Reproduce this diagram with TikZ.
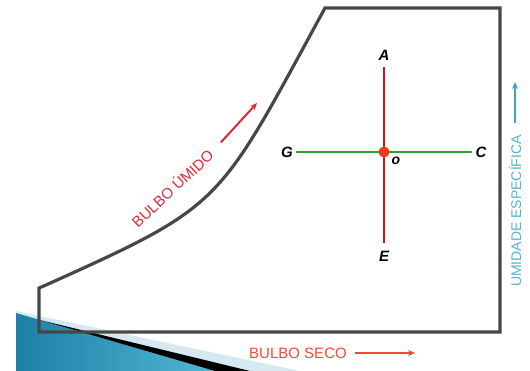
\documentclass[tikz,border=0pt]{standalone}
\usepackage{fontspec}
\setmainfont{Liberation Sans}
\usetikzlibrary{arrows.meta,calc,positioning}
\definecolor{FrameInk}{HTML}{474747}
\definecolor{AxisRed}{HTML}{C8161E}
\definecolor{AxisGreen}{HTML}{2E9E2E}
\definecolor{DotRed}{HTML}{F23C16}
\definecolor{DryRed}{HTML}{F04A36}
\definecolor{WetRed}{HTML}{E0283A}
\definecolor{HumTeal}{HTML}{3AA6C4}
\definecolor{HumText}{HTML}{55B4D0}
\definecolor{ThemeBlue}{HTML}{1C80A6}
\definecolor{ThemeLight}{HTML}{52B6D6}
\definecolor{ThemePale}{HTML}{D6E9F1}
\begin{document}
\begin{tikzpicture}[x=1pt, y=-1pt,
  frame/.style={draw=FrameInk, line width=3.2pt},
  pt/.style={font=\fontsize{15}{17}\selectfont\bfseries\itshape, inner sep=3pt},
  axis/.style={draw=#1, line width=2.6pt},
  cap/.style={text=#1, font=\fontsize{15}{18}\selectfont, inner sep=0pt},
  arr/.style={draw=#1, line width=2pt, -{Stealth[length=7pt,width=6pt]}},
]
\useasboundingbox (0,0) rectangle (530,371);
\fill[ThemePale] (16,311) -- (300,371) -- (16,371) -- cycle;
\shade[left color=ThemeBlue, right color=ThemeLight] (16,313) -- (215,371) -- (16,371) -- cycle;
\fill[black] (40,320) -- (250,371) -- (215,371) -- cycle;
\draw[frame] (39,332) -- (39,288) -- (46,285) .. controls (226,204) and (217,206) .. (325,8) -- (500,8) -- (500,332) -- cycle;
\node[pt] (A) at (384,55) {A};
\node[pt] (E) at (384,256) {E};
\node[pt] (G) at (287,152) {G};
\node[pt] (C) at (481,152) {C};
\draw[axis=AxisGreen] (G) -- (C);
\draw[axis=AxisRed, shorten <=4pt, shorten >=5pt] (A) -- (E);
\node[circle, fill=DotRed, minimum size=11pt, inner sep=0pt] (O) at (A |- G) {};
\node[pt, font=\fontsize{14}{16}\selectfont\bfseries\itshape] (o) at (396,161) {o};
\node[cap=DryRed] (seco) at (298,353) {BULBO SECO};
\coordinate (dryTip) at (415,353);
\draw[arr=DryRed] ([xshift=8pt]seco.east) -- (dryTip);
\node[cap=WetRed, rotate=43] (umido) at (172,188) {BULBO ÚMIDO};
\coordinate (wetTip) at (257,103);
\draw[arr=WetRed] ([shift={(43:14pt)}]umido.east) -- (wetTip);
\node[cap=HumText, rotate=90, font=\fontsize{14}{16}\selectfont] (umid) at (515,211) {UMIDADE ESPECÍFICA};
\coordinate (humTip) at (515,82);
\draw[arr=HumTeal, line width=1.5pt] ([shift={(90:12pt)}]umid.east) -- (humTip);
\end{tikzpicture}
\end{document}
